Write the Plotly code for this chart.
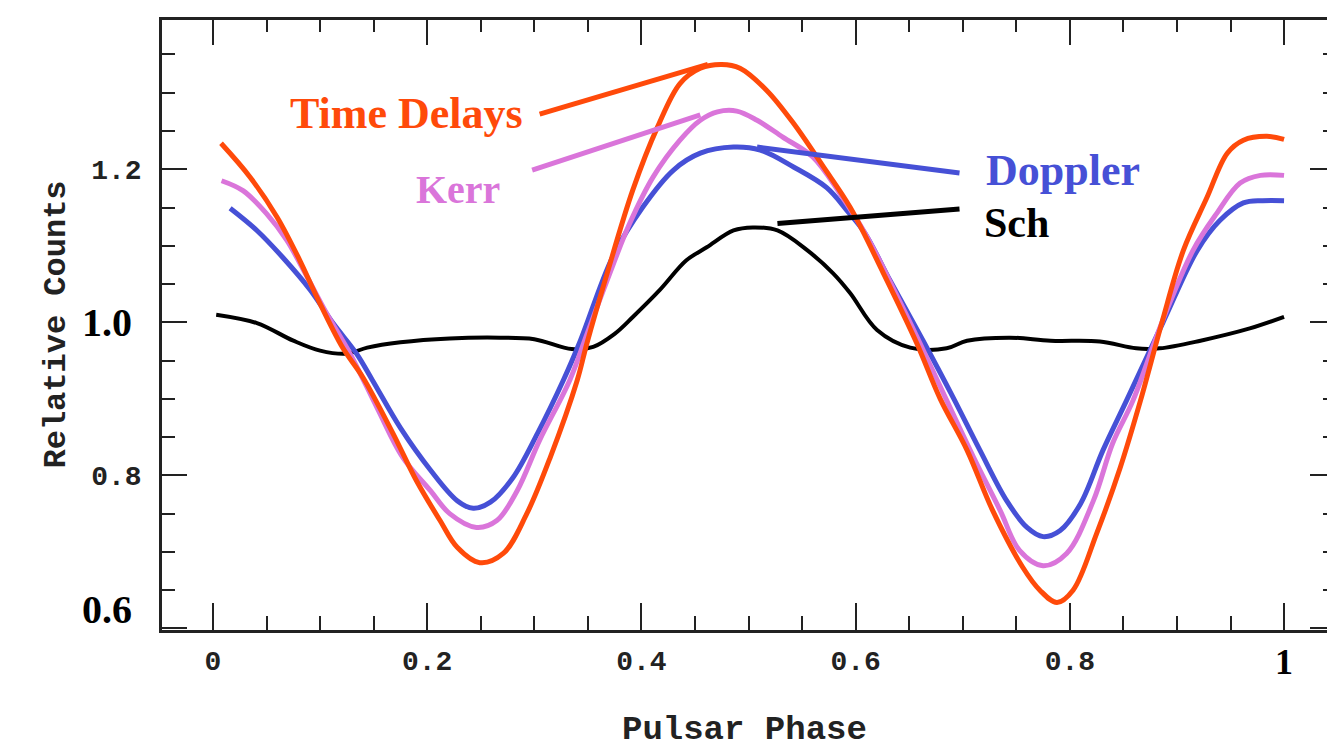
import plotly.graph_objects as go

# ---- data ----
td_x = [0.0075, 0.0345, 0.060, 0.081, 0.097, 0.121, 0.140, 0.168, 0.190, 0.212, 0.228, 0.249, 0.271, 0.293,
        0.315, 0.340, 0.349, 0.368, 0.392, 0.415, 0.436, 0.455, 0.475, 0.492, 0.517, 0.542, 0.570, 0.595,
        0.626, 0.657, 0.679, 0.704, 0.728, 0.756, 0.772, 0.788, 0.803, 0.825, 0.847, 0.866, 0.886, 0.906,
        0.928, 0.947, 0.962, 0.984, 1.0]
td_y = [1.234, 1.190, 1.137, 1.081, 1.033, 0.967, 0.928, 0.855, 0.793, 0.741, 0.706, 0.686, 0.698, 0.750,
        0.824, 0.924, 0.972, 1.064, 1.173, 1.255, 1.312, 1.332, 1.337, 1.332, 1.303, 1.260, 1.203, 1.150,
        1.064, 0.973, 0.900, 0.833, 0.754, 0.680, 0.650, 0.634, 0.650, 0.724, 0.810, 0.898, 1.000, 1.094,
        1.163, 1.221, 1.238, 1.243, 1.239]

kerr_x = [0.008, 0.028, 0.050, 0.069, 0.088, 0.106, 0.128, 0.153, 0.177, 0.203, 0.221, 0.246, 0.265, 0.284,
          0.305, 0.333, 0.349, 0.368, 0.389, 0.411, 0.436, 0.455, 0.471, 0.489, 0.508, 0.532, 0.560, 0.585,
          0.611, 0.635, 0.660, 0.685, 0.710, 0.735, 0.753, 0.775, 0.797, 0.822, 0.840, 0.859, 0.886, 0.915,
          0.937, 0.959, 0.978, 1.0]
kerr_y = [1.185, 1.172, 1.142, 1.107, 1.059, 1.012, 0.959, 0.889, 0.824, 0.780, 0.750, 0.732, 0.741, 0.780,
          0.846, 0.924, 0.984, 1.055, 1.129, 1.190, 1.238, 1.264, 1.275, 1.276, 1.264, 1.242, 1.216, 1.169,
          1.111, 1.045, 0.973, 0.898, 0.824, 0.754, 0.702, 0.682, 0.698, 0.767, 0.842, 0.898, 1.000, 1.094,
          1.142, 1.182, 1.192, 1.192]

dop_x = [0.016, 0.041, 0.065, 0.091, 0.112, 0.134, 0.149, 0.175, 0.203, 0.228, 0.243, 0.259, 0.280, 0.303,
         0.327, 0.343, 0.373, 0.401, 0.430, 0.455, 0.486, 0.511, 0.542, 0.573, 0.592, 0.608, 0.632, 0.663,
         0.691, 0.716, 0.741, 0.760, 0.775, 0.791, 0.810, 0.831, 0.853, 0.887, 0.919, 0.940, 0.962, 0.980, 1.0]
dop_y = [1.149, 1.120, 1.085, 1.042, 0.999, 0.959, 0.924, 0.862, 0.807, 0.767, 0.757, 0.765, 0.797, 0.855,
         0.924, 0.976, 1.085, 1.150, 1.199, 1.221, 1.229, 1.225, 1.203, 1.176, 1.146, 1.118, 1.055, 0.976,
         0.902, 0.833, 0.767, 0.732, 0.720, 0.728, 0.763, 0.833, 0.898, 1.000, 1.094, 1.133, 1.156, 1.159, 1.159]

sch_x = [0.003, 0.041, 0.075, 0.100, 0.125, 0.144, 0.175, 0.221, 0.268, 0.300, 0.335, 0.355, 0.375, 0.392,
         0.417, 0.442, 0.461, 0.486, 0.504, 0.527, 0.555, 0.579, 0.595, 0.620, 0.651, 0.685, 0.704, 0.744,
         0.782, 0.828, 0.862, 0.884, 0.922, 0.968, 1.0]
sch_y = [1.010, 0.999, 0.976, 0.963, 0.959, 0.967, 0.974, 0.979, 0.980, 0.978, 0.965, 0.968, 0.985, 1.007,
         1.042, 1.081, 1.098, 1.120, 1.124, 1.120, 1.094, 1.064, 1.038, 0.990, 0.967, 0.966, 0.976, 0.980,
         0.976, 0.975, 0.966, 0.966, 0.976, 0.992, 1.007]

x_ticks = [0, 0.2, 0.4, 0.6, 0.8, 1.0]
x_tick_text = ["0", "0.2", "0.4", "0.6", "0.8", ""]
y_ticks = [0.6, 0.8, 1.0, 1.2, 1.4]
y_tick_text = ["", "0.8", "", "1.2", ""]
bold_y_labels = [(1.4, "1.4"), (1.0, "1.0"), (0.6, "0.6")]

# series labels: (text, x, y, colour, size)
labels = [("Time Delays", 0.181, 1.273, "#FF4A0A", 44),
          ("Kerr", 0.229, 1.173, "#DA75DA", 40),
          ("Doppler", 0.794, 1.199, "#4650D6", 44),
          ("Sch", 0.750, 1.130, "#000000", 42)]
# leader lines: (x0, y0, x1, y1, colour)
leaders = [(0.305, 1.272, 0.462, 1.337, "#FF4A0A"),
           (0.298, 1.199, 0.455, 1.271, "#DA75DA"),
           (0.508, 1.229, 0.697, 1.195, "#4650D6"),
           (0.527, 1.129, 0.697, 1.148, "#000000")]

XR = [-0.0476, 1.0401]
YR = [0.598, 1.395]
AX = "#222222"

fig = go.Figure()
fig.add_trace(go.Scatter(x=sch_x, y=sch_y, mode="lines", line=dict(color="#000000", width=4, shape="spline"), name="Sch"))
fig.add_trace(go.Scatter(x=dop_x, y=dop_y, mode="lines", line=dict(color="#4650D6", width=5, shape="spline"), name="Doppler"))
fig.add_trace(go.Scatter(x=kerr_x, y=kerr_y, mode="lines", line=dict(color="#DA75DA", width=5, shape="spline"), name="Kerr"))
fig.add_trace(go.Scatter(x=td_x, y=td_y, mode="lines", line=dict(color="#FF4A0A", width=5, shape="spline"), name="Time Delays"))

for x0, y0, x1, y1, c in leaders:
    fig.add_shape(type="line", x0=x0, y0=y0, x1=x1, y1=y1, xref="x", yref="y",
                  line=dict(color=c, width=5))

annotations = []
for t, x, y, c, s in labels:
    annotations.append(dict(text="<b>%s</b>" % t, x=x, y=y, xref="x", yref="y", showarrow=False,
                            font=dict(family="Liberation Serif", size=s, color=c)))
for v, t in bold_y_labels:
    shift = {1.4: -6, 1.0: 0, 0.6: 19}[v]
    annotations.append(dict(text="<b>%s</b>" % t, x=0, y=v, xref="paper", yref="y", xanchor="right",
                            xshift=-28, yshift=shift, showarrow=False,
                            font=dict(family="Liberation Serif", size=40, color="#000000")))
annotations.append(dict(text="<b>1</b>", x=1.0, y=0, xref="x", yref="paper", yanchor="middle",
                        yshift=-32, showarrow=False,
                        font=dict(family="Liberation Serif", size=36, color="#000000")))
annotations.append(dict(text="<b>Relative Counts</b>", x=0, y=0.5, xref="paper", yref="paper",
                        xshift=-127, textangle=-90, showarrow=False,
                        font=dict(family="Liberation Mono", size=32, color="#222222")))
annotations.append(dict(text="<b>Pulsar Phase</b>", x=0.5, y=0, xref="paper", yref="paper",
                        yshift=-100, yanchor="middle", showarrow=False,
                        font=dict(family="Liberation Mono", size=34, color="#222222")))

tickfont = dict(family="Liberation Mono", size=28, color="#222222")
fig.update_layout(
    width=1327, height=752, margin=dict(l=162, r=0, t=20, b=122, autoexpand=False),
    paper_bgcolor="white", plot_bgcolor="white", showlegend=False,
    annotations=annotations,
    xaxis=dict(range=XR, showline=True, linecolor=AX, linewidth=2.5, ticks="inside", ticklen=27,
               tickwidth=2, tickcolor=AX, tickmode="array", tickvals=x_ticks, automargin=False,
               ticktext=["<b>%s</b>" % t if t else "" for t in x_tick_text], tickfont=tickfont,
               ticklabelstandoff=4,
               minor=dict(ticks="inside", ticklen=14, tickwidth=2, tickcolor=AX, tickmode="linear",
                          tick0=0, dtick=0.05),
               showgrid=False, zeroline=False),
    xaxis2=dict(range=XR, overlaying="x", side="top", showline=True, linecolor=AX, linewidth=2.5,
                ticks="inside", ticklen=25, tickwidth=2, tickcolor=AX, tickmode="array", tickvals=x_ticks,
                showticklabels=False, automargin=False,
                minor=dict(ticks="inside", ticklen=12, tickwidth=2, tickcolor=AX, tickmode="linear",
                           tick0=0, dtick=0.05),
                showgrid=False, zeroline=False),
    yaxis=dict(range=YR, showline=True, linecolor=AX, linewidth=2.5, ticks="inside", ticklen=25,
               tickwidth=2, tickcolor=AX, tickmode="array", tickvals=y_ticks, automargin=False,
               ticktext=["<b>%s</b>" % t if t else "" for t in y_tick_text], tickfont=tickfont,
               ticklabelstandoff=12,
               minor=dict(ticks="inside", ticklen=13, tickwidth=2, tickcolor=AX, tickmode="linear",
                          tick0=0.6, dtick=0.05),
               showgrid=False, zeroline=False),
    yaxis2=dict(range=YR, overlaying="y", side="right", showline=False, ticks="inside", ticklen=17,
                tickwidth=2, tickcolor=AX, tickmode="array", tickvals=y_ticks, showticklabels=False,
                automargin=False,
                minor=dict(ticks="inside", ticklen=4, tickwidth=2, tickcolor=AX, tickmode="linear",
                           tick0=0.6, dtick=0.05),
                showgrid=False, zeroline=False),
)
fig.add_trace(go.Scatter(x=[None], y=[None], xaxis="x2", yaxis="y2", showlegend=False, hoverinfo="skip"))

fig.write_html("out.html", config={"displayModeBar": False},
               post_script="document.body.style.margin='0';document.body.style.overflow='hidden';")
